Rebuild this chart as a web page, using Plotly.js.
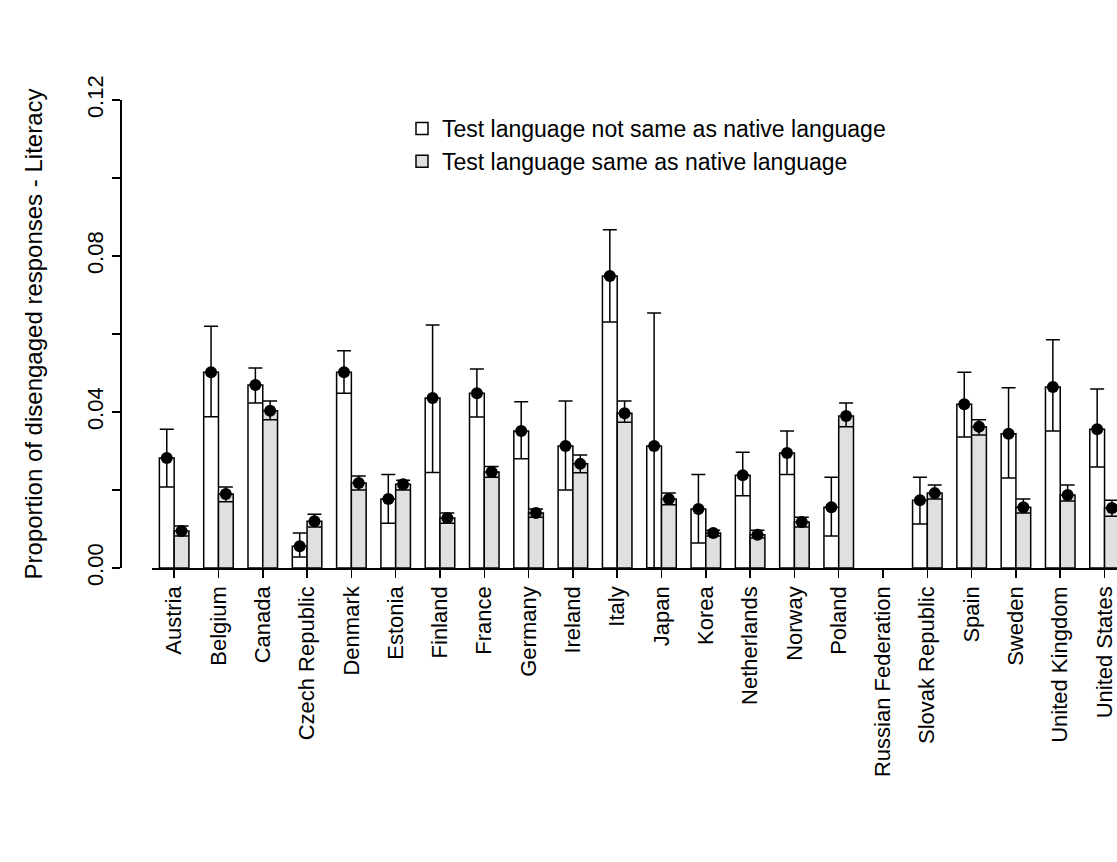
<!DOCTYPE html>
<html>
<head>
<meta charset="utf-8">
<script src="https://cdn.plot.ly/plotly-3.0.1.min.js"></script>
<style>
  html, body { margin: 0; padding: 0; overflow: hidden; background: #fff; }
  #chart { width: 1180px; height: 862px; }
</style>
</head>
<body>
<div id="chart"></div>
<script>
var countries = ["Austria", "Belgium", "Canada", "Czech Republic", "Denmark", "Estonia",
  "Finland", "France", "Germany", "Ireland", "Italy", "Japan", "Korea", "Netherlands",
  "Norway", "Poland", "Russian Federation", "Slovak Republic", "Spain", "Sweden",
  "United Kingdom", "United States"];

// test language not same as native language
var notSame      = [0.0282, 0.0502, 0.0469, 0.0056, 0.0502, 0.0177, 0.0436, 0.0448, 0.0351, 0.0313, 0.0749, 0.0313, 0.0151, 0.0238, 0.0295, 0.0156, null, 0.0174, 0.0420, 0.0344, 0.0464, 0.0356];
var notSameUpper = [0.0356, 0.0620, 0.0513, 0.0090, 0.0557, 0.0240, 0.0623, 0.0510, 0.0426, 0.0428, 0.0867, 0.0654, 0.0240, 0.0297, 0.0351, 0.0233, null, 0.0233, 0.0502, 0.0462, 0.0585, 0.0459];
var notSameLower = [0.0208, 0.0388, 0.0423, 0.0028, 0.0448, 0.0115, 0.0245, 0.0387, 0.0280, 0.0200, 0.0631, 0.0000, 0.0064, 0.0185, 0.0240, 0.0082, null, 0.0113, 0.0336, 0.0231, 0.0351, 0.0259];

// test language same as native language
var same      = [0.0095, 0.0190, 0.0403, 0.0120, 0.0218, 0.0215, 0.0128, 0.0246, 0.0141, 0.0267, 0.0397, 0.0177, 0.0090, 0.0085, 0.0118, 0.0390, null, 0.0192, 0.0362, 0.0156, 0.0187, 0.0154];
var sameUpper = [0.0108, 0.0208, 0.0428, 0.0138, 0.0236, 0.0225, 0.0141, 0.0260, 0.0151, 0.0290, 0.0428, 0.0192, 0.0097, 0.0097, 0.0130, 0.0423, null, 0.0213, 0.0380, 0.0177, 0.0213, 0.0174];
var sameLower = [0.0082, 0.0170, 0.0380, 0.0105, 0.0200, 0.0200, 0.0115, 0.0233, 0.0130, 0.0244, 0.0374, 0.0162, 0.0082, 0.0077, 0.0105, 0.0362, null, 0.0177, 0.0341, 0.0141, 0.0172, 0.0133];

function diff(a, b) {
  return a.map(function(v, i) { return v == null ? null : a[i] - b[i]; });
}

function barTrace(name, vals, up, lo, fill, grp) {
  return {
    type: 'bar', name: name, x: countries, y: vals, offsetgroup: grp,
    marker: { color: fill, line: { color: '#000', width: 1.5 } },
    error_y: { type: 'data', symmetric: false, array: diff(up, vals), arrayminus: diff(vals, lo),
               color: '#000', thickness: 1.5, width: 7 },
    hoverinfo: 'skip'
  };
}

function pointTrace(vals, grp) {
  return {
    type: 'scatter', mode: 'markers', x: countries, y: vals, offsetgroup: grp,
    marker: { color: '#000', size: 12 }, showlegend: false, hoverinfo: 'skip'
  };
}

var data = [
  barTrace('Test language not same as native language', notSame, notSameUpper, notSameLower, '#ffffff', '1'),
  barTrace('Test language same as native language', same, sameUpper, sameLower, '#e0e0e0', '2'),
  pointTrace(notSame, '1'),
  pointTrace(same, '2')
];

var W = 1180, L = 120, R = 9;
var layout = {
  width: W, height: 862,
  margin: { l: L, r: R, t: 100, b: 294 },
  paper_bgcolor: '#fff', plot_bgcolor: '#fff',
  font: { family: 'Liberation Sans, Arial, sans-serif', size: 22, color: '#000' },
  barmode: 'group', bargap: 1 / 3, bargroupgap: 0,
  scattermode: 'group',
  showlegend: true,
  legend: {
    x: (402 - L) / (W - L - R), y: 0.985, xanchor: 'left', yanchor: 'top',
    font: { size: 23 }, tracegroupgap: 0, itemwidth: 30, bgcolor: 'rgba(0,0,0,0)'
  },
  xaxis: {
    type: 'category', domain: [32 / (W - L - R), 1], range: [-0.5, 22.5],
    showline: true, linecolor: '#000', linewidth: 1.5,
    ticks: 'outside', ticklen: 8, tickcolor: '#000', tickwidth: 1.5,
    tickangle: -90, tickfont: { size: 22 }, showgrid: false, zeroline: false, fixedrange: true
  },
  yaxis: {
    range: [0, 0.12], anchor: 'free', position: 0,
    tickvals: [0, 0.04, 0.08, 0.12], ticktext: ['0.00', '0.04', '0.08', '0.12'],
    ticks: 'outside', ticklen: 8, tickcolor: '#000', tickwidth: 1.5,
    minor: { dtick: 0.02, ticks: 'outside', ticklen: 8, tickcolor: '#000', tickwidth: 1.5, showgrid: false },
    tickangle: -90, tickfont: { size: 22 },
    showline: true, linecolor: '#000', linewidth: 1.5, showgrid: false, zeroline: false,
    title: { text: 'Proportion of disengaged responses - Literacy', font: { size: 24 }, standoff: 32 }
  }
};

Plotly.newPlot('chart', data, layout, { displayModeBar: false, staticPlot: true });
</script>
</body>
</html>
